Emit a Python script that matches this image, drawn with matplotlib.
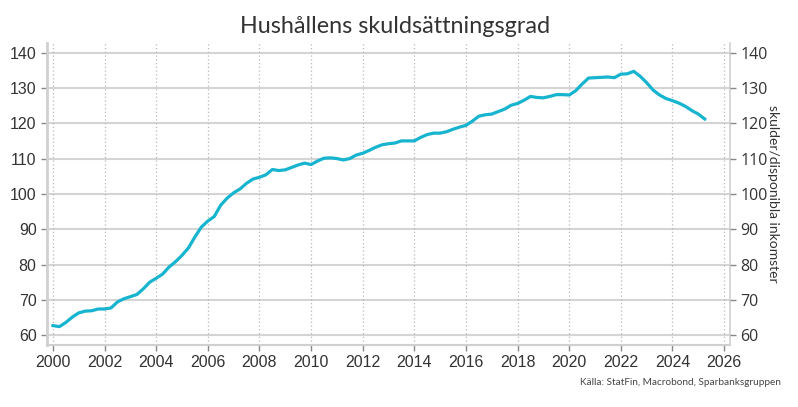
import matplotlib
matplotlib.use("Agg")
import matplotlib.pyplot as plt
import numpy as np

start_year = 2000.0
values = [
    62.7, 62.4, 63.6, 65.1,   # 2000
    66.3, 66.8, 66.9, 67.4,   # 2001
    67.4, 67.7, 69.4, 70.3,   # 2002
    70.9, 71.5, 73.1, 75.0,   # 2003
    76.1, 77.3, 79.3, 80.8,   # 2004
    82.6, 84.7, 87.8, 90.6,   # 2005
    92.3, 93.6, 96.8, 98.8,   # 2006
    100.3, 101.4, 103.0, 104.2,  # 2007
    104.7, 105.4, 106.9, 106.6,  # 2008
    106.8, 107.5, 108.2, 108.7,  # 2009
    108.3, 109.3, 110.1, 110.2,  # 2010
    110.0, 109.6, 110.0, 111.0,  # 2011
    111.5, 112.3, 113.2, 113.9,  # 2012
    114.2, 114.4, 115.0, 115.0,  # 2013
    115.0, 116.0, 116.8, 117.2,  # 2014
    117.2, 117.6, 118.3, 118.9,  # 2015
    119.4, 120.6, 122.0, 122.4,  # 2016
    122.6, 123.3, 124.0, 125.1,  # 2017
    125.6, 126.5, 127.6, 127.3,  # 2018
    127.2, 127.6, 128.1, 128.1,  # 2019
    128.0, 129.2, 131.1, 132.8,  # 2020
    132.9, 133.0, 133.1, 132.9,  # 2021
    133.9, 134.0, 134.7, 133.3,  # 2022
    131.5, 129.4, 128.0, 127.0,  # 2023
    126.4, 125.7, 124.8, 123.6,  # 2024
    122.6, 121.2,                # 2025
]
x_ticks = list(range(2000, 2027, 2))
y_ticks = [60, 70, 80, 90, 100, 110, 120, 130, 140]
title = "Hushållens skuldsättningsgrad"
right_label = "skulder/disponibla inkomster"
source = "Källa: StatFin, Macrobond, Sparbanksgruppen"

years = start_year + np.arange(len(values)) / 4.0

fig = plt.figure(figsize=(7.98, 4.07), dpi=100)
ax = fig.add_axes([0.0589, 0.1523, 0.9148 - 0.0589, 0.895 - 0.1523])

grid_c = "#d4d4d4"
text_c = "#333333"
line_c = "#16b4cf"

for yv in y_ticks:
    ax.axhline(yv, color=grid_c, lw=1.5, zorder=1)
for xv in x_ticks:
    ax.axvline(xv, color="#b8b8b8", lw=0.9, ls=(0, (1, 2)), zorder=1)

ax.plot(years, values, color=line_c, lw=2.3, zorder=3, solid_joinstyle="round")

ax.set_xlim(1999.77, 2026.23)
ax.set_ylim(57.2, 142.8)
ax.set_xticks(x_ticks)
ax.set_yticks(y_ticks)

ax.spines["top"].set_visible(False)
ax.spines["left"].set_color("#d0d0d0")
ax.spines["left"].set_linewidth(2.0)
ax.spines["bottom"].set_color("#d0d0d0")
ax.spines["bottom"].set_linewidth(1.5)
ax.spines["right"].set_color("#d0d0d0")
ax.spines["right"].set_linewidth(1.2)

fontfam = ["Liberation Sans", "DejaVu Sans"]
ax.tick_params(axis="both", colors="#888888", labelcolor=text_c, labelsize=11.5,
               length=4, width=1)
for lab in ax.get_xticklabels() + ax.get_yticklabels():
    lab.set_family(fontfam)

ax2 = ax.twinx()
ax2.set_ylim(ax.get_ylim())
ax2.set_yticks(y_ticks)
for s in ["top", "left", "bottom", "right"]:
    ax2.spines[s].set_visible(False)
ax2.tick_params(axis="y", colors="#888888", labelcolor=text_c, labelsize=11.5,
                length=4, width=1)
for lab in ax2.get_yticklabels():
    lab.set_family(["Open Sans", "DejaVu Sans"])
ax2.set_ylabel(right_label, rotation=270, labelpad=8, fontsize=10,
               color=text_c, family=["Lato", "DejaVu Sans"])

fig.text(0.495, 0.934, title, ha="center", va="center", fontsize=16.8,
         color="#333333", family=["Lato", "DejaVu Sans"])
fig.text(0.978, 0.06, source, ha="right", va="center", fontsize=7.2,
         color="#444444", family=["Lato", "DejaVu Sans"])

fig.savefig("out.png", dpi=100)
